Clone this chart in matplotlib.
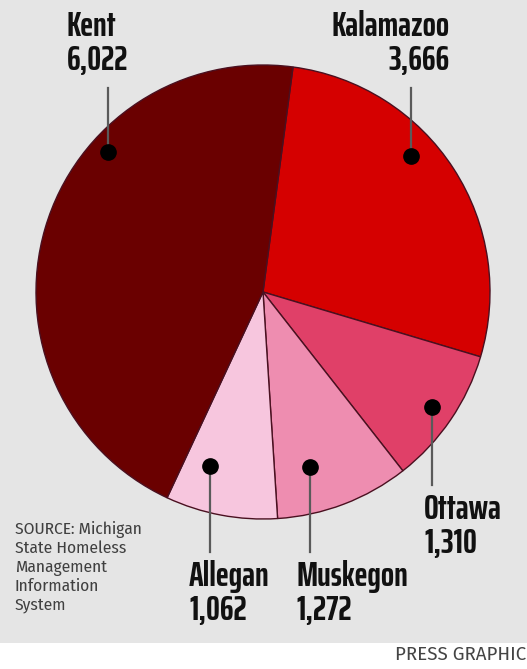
import numpy as np
import matplotlib.pyplot as plt
from matplotlib.patches import Rectangle

# Homeless counts by county
counties = ["Kalamazoo", "Ottawa", "Muskegon", "Allegan", "Kent"]
counts = [3666, 1310, 1272, 1062, 6022]
colors = ["#d50000", "#e04068", "#ee8db0", "#f7c6de", "#6a0000"]

# dot placement inside each wedge: (angle in degrees, fraction of radius)
dot_angle = [42.6, -34.4, -75.0, -107.0, 138.0]
dot_rfrac = [0.885, 0.90, 0.80, 0.80, 0.92]

W, H = 527, 669
cx, cy, R = 263, H - 292, 227

label_font = ["Saira ExtraCondensed", "DejaVu Sans"]
small_font = ["Fira Sans Condensed", "DejaVu Sans"]

fig = plt.figure(figsize=(W / 100, H / 100), dpi=100, facecolor="white")
ax = fig.add_axes([0, 0, 1, 1])
ax.add_patch(Rectangle((0, H - 643), W, 643, facecolor="#e5e5e5", edgecolor="none", zorder=0))

ax.pie(counts, colors=colors, startangle=82.4, counterclock=False,
       center=(cx, cy), radius=R, frame=True,
       wedgeprops=dict(edgecolor="#4a1020", linewidth=1.0))

ax.set_xlim(0, W)
ax.set_ylim(0, H)
ax.set_aspect("equal")
ax.axis("off")

# label anchors: (x, top y in pixels from top, alignment)
label_pos = {
    "Kent": (67, 10, "left"),
    "Kalamazoo": (450, 10, "right"),
    "Ottawa": (424, 493, "left"),
    "Muskegon": (296, 560, "left"),
    "Allegan": (189, 560, "left"),
}

for name, n, a, rf in zip(counties, counts, dot_angle, dot_rfrac):
    t = np.radians(a)
    dx = cx + rf * R * np.cos(t)
    dy = cy + rf * R * np.sin(t)
    lx, ly, ha = label_pos[name]
    if ly < 100:
        line_end = H - 88
    else:
        line_end = H - (ly - 8)
    ax.plot([dx, dx], [dy, line_end], color="#5a5a5a", lw=1.6, zorder=3)
    ax.plot(dx, dy, "o", color="black", markersize=11, zorder=4)
    ax.text(lx, H - ly, f"{name}\n{n:,}", ha=ha, va="top", family=label_font,
            fontweight="bold", fontsize=25, linespacing=1.05, color="#111111")

ax.text(15, H - 521, "SOURCE: Michigan\nState Homeless\nManagement\nInformation\nSystem",
        ha="left", va="top", fontsize=12.5, linespacing=1.2, color="#404040",
        family=small_font)

ax.text(526, H - 646, "PRESS GRAPHIC", ha="right", va="top", fontsize=13.5,
        color="#444444", family=["Fira Sans", "DejaVu Sans"])

fig.savefig("out.png", dpi=100, facecolor="white")
